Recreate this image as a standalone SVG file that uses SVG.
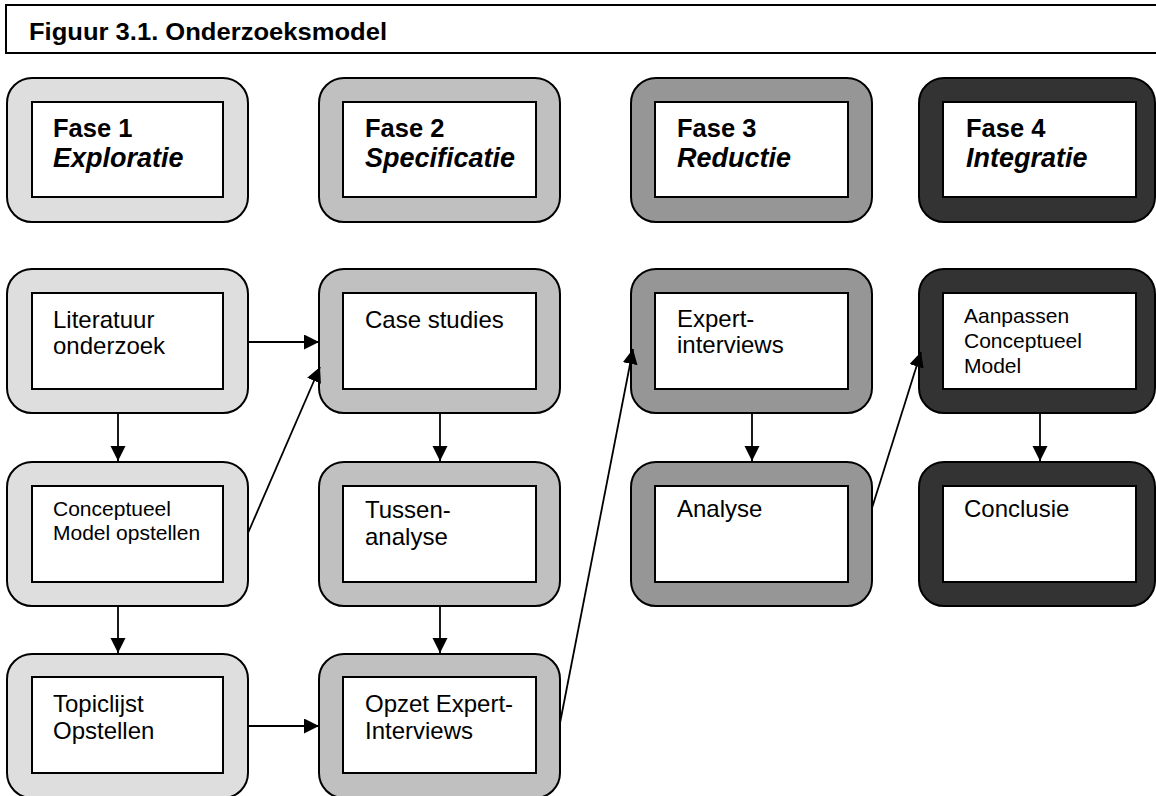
<svg xmlns="http://www.w3.org/2000/svg" width="1156" height="796" viewBox="0 0 1156 796">
<defs>
<style>
.outer{stroke:#000;stroke-width:2}
.c1{fill:#dedede}
.c2{fill:#c0c0c0}
.c3{fill:#969696}
.c4{fill:#333333}
.inner{fill:#fff;stroke:#000;stroke-width:2}
.t{font-family:"Liberation Sans",Arial,sans-serif;font-size:24px;fill:#000}
.ts{font-family:"Liberation Sans",Arial,sans-serif;font-size:21px;fill:#000}
.tf{font-family:"Liberation Sans",Arial,sans-serif;font-size:25.5px;font-weight:bold;fill:#000}
.ti{font-style:italic;font-size:27px}
.conn{stroke:#000;stroke-width:1.8;fill:none;marker-end:url(#ah)}
</style>
<marker id="ah" markerUnits="userSpaceOnUse" markerWidth="16" markerHeight="16" refX="15" refY="7.5" orient="auto">
<path d="M0,0 L15,7.5 L0,15 z" fill="#000"/>
</marker>
</defs>
<rect width="1156" height="796" fill="#fff"/>
<g id="header">
<path d="M1160,5 L6,5 L6,53 L1160,53" fill="none" stroke="#000" stroke-width="2"/>
<text x="29" y="40" font-family="'Liberation Sans',Arial,sans-serif" font-size="23" font-weight="bold" textLength="358" lengthAdjust="spacingAndGlyphs">Figuur 3.1. Onderzoeksmodel</text>
</g>
<g id="fase1">
<rect class="outer c1" x="7" y="78" width="241" height="144" rx="25"/>
<rect class="inner" x="32" y="102" width="191" height="95"/>
<text class="tf" x="53" y="137">Fase 1</text>
<text class="tf ti" x="53" y="167">Exploratie</text>
</g>
<g id="fase2">
<rect class="outer c2" x="319" y="78" width="241" height="144" rx="25"/>
<rect class="inner" x="343" y="102" width="193" height="95"/>
<text class="tf" x="365" y="137">Fase 2</text>
<text class="tf ti" x="365" y="167">Specificatie</text>
</g>
<g id="fase3">
<rect class="outer c3" x="631" y="78" width="241" height="144" rx="25"/>
<rect class="inner" x="655" y="102" width="193" height="95"/>
<text class="tf" x="677" y="137">Fase 3</text>
<text class="tf ti" x="677" y="167">Reductie</text>
</g>
<g id="fase4">
<rect class="outer c4" x="919" y="78" width="236" height="144" rx="25"/>
<rect class="inner" x="943" y="102" width="193" height="95"/>
<text class="tf" x="966" y="137">Fase 4</text>
<text class="tf ti" x="966" y="167">Integratie</text>
</g>
<g id="literatuur">
<rect class="outer c1" x="7" y="269" width="241" height="144" rx="25"/>
<rect class="inner" x="32" y="293" width="191" height="96"/>
<text class="t" x="53" y="328">Literatuur</text>
<text class="t" x="53" y="354">onderzoek</text>
</g>
<g id="conceptueel">
<rect class="outer c1" x="7" y="462" width="241" height="144" rx="25"/>
<rect class="inner" x="32" y="486" width="191" height="96"/>
<text class="ts" x="53" y="516">Conceptueel</text>
<text class="ts" x="53" y="540">Model opstellen</text>
</g>
<g id="topiclijst">
<rect class="outer c1" x="7" y="654" width="241" height="144" rx="25"/>
<rect class="inner" x="32" y="677" width="191" height="96"/>
<text class="t" x="53" y="712">Topiclijst</text>
<text class="t" x="53" y="739">Opstellen</text>
</g>
<g id="casestudies">
<rect class="outer c2" x="319" y="269" width="241" height="144" rx="25"/>
<rect class="inner" x="343" y="293" width="193" height="96"/>
<text class="t" x="365" y="328">Case studies</text>
</g>
<g id="tussenanalyse">
<rect class="outer c2" x="319" y="462" width="241" height="144" rx="25"/>
<rect class="inner" x="343" y="486" width="193" height="96"/>
<text class="t" x="365" y="518">Tussen-</text>
<text class="t" x="365" y="545">analyse</text>
</g>
<g id="opzet">
<rect class="outer c2" x="319" y="654" width="241" height="144" rx="25"/>
<rect class="inner" x="343" y="677" width="193" height="96"/>
<text class="t" x="365" y="712">Opzet Expert-</text>
<text class="t" x="365" y="739">Interviews</text>
</g>
<g id="expertinterviews">
<rect class="outer c3" x="631" y="269" width="241" height="144" rx="25"/>
<rect class="inner" x="655" y="293" width="193" height="96"/>
<text class="t" x="677" y="327">Expert-</text>
<text class="t" x="677" y="353">interviews</text>
</g>
<g id="analyse">
<rect class="outer c3" x="631" y="462" width="241" height="144" rx="25"/>
<rect class="inner" x="655" y="486" width="193" height="96"/>
<text class="t" x="677" y="517">Analyse</text>
</g>
<g id="aanpassen">
<rect class="outer c4" x="919" y="269" width="236" height="144" rx="25"/>
<rect class="inner" x="943" y="293" width="193" height="96"/>
<text class="ts" x="964" y="323">Aanpassen</text>
<text class="ts" x="964" y="348">Conceptueel</text>
<text class="ts" x="964" y="373">Model</text>
</g>
<g id="conclusie">
<rect class="outer c4" x="919" y="462" width="236" height="144" rx="25"/>
<rect class="inner" x="943" y="486" width="193" height="96"/>
<text class="t" x="964" y="517">Conclusie</text>
</g>
<g id="connectors">
<path class="conn" d="M248,342 L319,342"/>
<path class="conn" d="M118,413 L118,461"/>
<path class="conn" d="M248,533 L320,367"/>
<path class="conn" d="M118,606 L118,653"/>
<path class="conn" d="M248,726 L319,726"/>
<path class="conn" d="M440,413 L440,461"/>
<path class="conn" d="M440,606 L440,653"/>
<path class="conn" d="M560,723 L633,349"/>
<path class="conn" d="M752,414 L752,461"/>
<path class="conn" d="M872,508 L921,352"/>
<path class="conn" d="M1040,414 L1040,461"/>
</g>
</svg>
